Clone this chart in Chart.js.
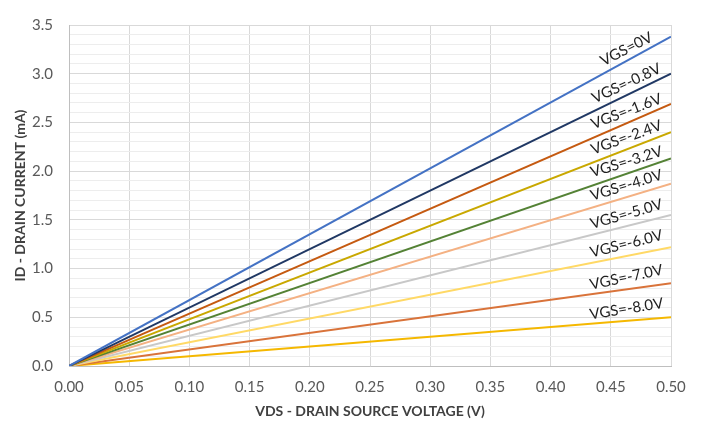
<!DOCTYPE html>
<html><head><meta charset="utf-8">
<script src="https://cdn.jsdelivr.net/npm/chart.js@4"></script>
<style>html,body{margin:0;padding:0;background:#fff}#w{width:701px;height:427px}</style>
</head><body><div id="w"><canvas id="c" width="701" height="427"></canvas></div>
<script>
// ---- data ----
const vdsValues = [0.0, 0.5];
const seriesNames = ["VGS=0V","VGS=-0.8V","VGS=-1.6V","VGS=-2.4V","VGS=-3.2V","VGS=-4.0V","VGS=-5.0V","VGS=-6.0V","VGS=-7.0V","VGS=-8.0V"];
const idAtZero = [0,0,0,0,0,0,0,0,0,0];
const idAtHalfVolt = [3.38, 3.00, 2.69, 2.40, 2.13, 1.87, 1.55, 1.22, 0.85, 0.50];
const xTicks = [0.00,0.05,0.10,0.15,0.20,0.25,0.30,0.35,0.40,0.45,0.50];
const yTicks = [0.0,0.5,1.0,1.5,2.0,2.5,3.0,3.5];

// ---- styles ----
const colors = ["#4472C4","#203864","#C55A11","#C9A800","#548235","#F4B183","#C8C8C8","#FFD966","#D9733A","#F5B800"];
const labelAngles = [27,25,21,20,17,17,16,14,12,9];
const FONT = "Lato, 'Open Sans', sans-serif";

const datasets = seriesNames.map((n,i)=>({
  label:n,
  data: vdsValues.map((x,j)=>({x:x, y: j===0 ? idAtZero[i] : idAtHalfVolt[i]})),
  borderColor: colors[i], backgroundColor: colors[i],
  borderWidth: 2, pointRadius: 0, tension: 0
}));

const labelPlugin = {
  id:'lineLabels',
  afterDatasetsDraw(chart){
    const {ctx, scales:{x,y}} = chart;
    const lx = 0.463;
    ctx.save();
    ctx.font = "15px " + FONT;
    ctx.fillStyle = "#1f1f1f";
    ctx.textAlign = "center";
    ctx.textBaseline = "middle";
    datasets.forEach((d,i)=>{
      const v = idAtHalfVolt[i]*lx/0.5;
      const px = x.getPixelForValue(lx);
      const py = y.getPixelForValue(v) - 12;
      ctx.save();
      ctx.translate(px, py);
      ctx.rotate(-labelAngles[i]*Math.PI/180);
      ctx.fillText(d.label, 0, 0);
      ctx.restore();
    });
    ctx.restore();
  }
};

new Chart(document.getElementById('c'), {
  type:'line',
  data:{datasets},
  options:{
    responsive:false, animation:false, maintainAspectRatio:false,
    layout:{padding:{left:0,right:30,top:10,bottom:0}},
    plugins:{legend:{display:false}, tooltip:{enabled:false}},
    scales:{
      x:{type:'linear', min:0, max:0.5,
        afterBuildTicks(s){ s.ticks = xTicks.map(v=>({value:v})); },
        afterFit(s){ s.height = 61; },
        ticks:{padding:12, color:"#595959", font:{family:FONT,size:15}, callback:v=>Number(v).toFixed(2), maxRotation:0, autoSkip:false},
        grid:{color:"#d9d9d9", drawTicks:false, lineWidth:1},
        border:{color:"#bfbfbf"},
        title:{display:true, text:"VDS - DRAIN SOURCE VOLTAGE (V)", color:"#404040", font:{family:FONT,size:14,weight:'bold'}, padding:{top:0,bottom:7}}
      },
      y:{type:'linear', min:0, max:3.5,
        afterBuildTicks(s){ const t=[]; for(let k=0;k<=35;k++){ t.push({value:k/10}); } s.ticks=t; },
        afterFit(s){ s.width = 69; },
        ticks:{padding:16, color:"#595959", font:{family:FONT,size:15}, autoSkip:false,
          callback:(v)=>{ const r=Math.round(v*10); return (r%5===0 && yTicks.includes(r/10)) ? (r/10).toFixed(1) : ''; }},
        grid:{drawTicks:false, lineWidth:1, color:(c)=>{ const r=Math.round(c.tick.value*10); return r%5===0 ? "#d9d9d9" : "#ededed"; }},
        border:{color:"#bfbfbf"},
        title:{display:true, text:"ID - DRAIN CURRENT (mA)", color:"#404040", font:{family:FONT,size:14,weight:'bold'}, padding:{top:12,bottom:0}}
      }
    }
  },
  plugins:[labelPlugin]
});
</script></body></html>
